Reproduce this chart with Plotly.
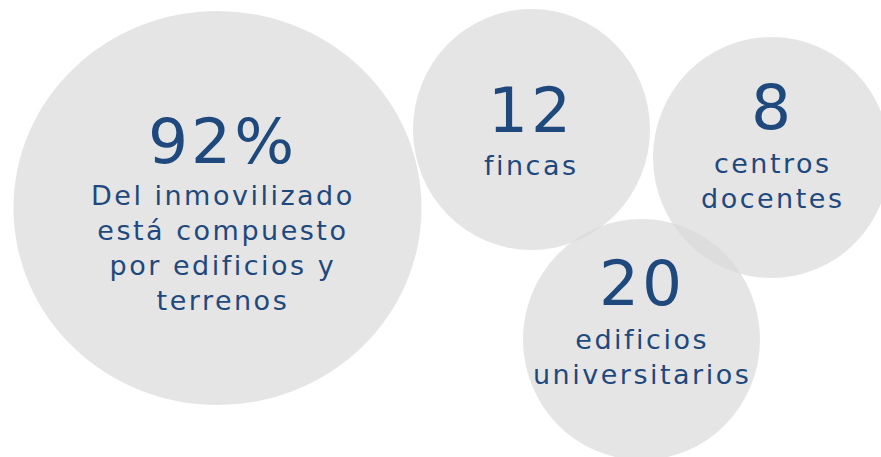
import plotly.graph_objects as go

# ---- data ----
figures = ["92%", "12", "8", "20"]
labels = [
    ["Del inmovilizado", "está compuesto", "por edificios y", "terrenos"],
    ["fincas"],
    ["centros", "docentes"],
    ["edificios", "universitarios"],
]

# ---- layout (pixel space) ----
W, H = 881, 457
bubble_cx = [217.5, 531.5, 771.5, 641.5]
bubble_cy = [208.0, 129.5, 157.5, 339.5]
bubble_rx = [204.0, 118.5, 118.5, 118.5]
bubble_ry = [197.0, 120.5, 120.5, 120.5]
text_cx = [222.5, 531.0, 772.5, 641.5]
num_baseline = [162.0, 131.0, 128.0, 304.0]
label_baseline = [204.0, 174.5, 172.0, 348.0]

NUM_SIZE = 63
LAB_SIZE = 27
ASC = 0.928
TEXT_COLOR = "#1F497D"
FONT = "DejaVu Sans"


def spaced(lines, px):
    return "<br>".join(
        f"<span style='letter-spacing:{px}px'>{ln}</span>" for ln in lines
    )


fig = go.Figure()
fig.add_trace(go.Scatter(x=[0, W], y=[0, H], mode="markers",
                         marker=dict(opacity=0), hoverinfo="skip",
                         showlegend=False))

for cx, cy, rx, ry in zip(bubble_cx, bubble_cy, bubble_rx, bubble_ry):
    fig.add_shape(type="circle", xref="x", yref="y",
                  x0=cx - rx, x1=cx + rx, y0=cy - ry, y1=cy + ry,
                  fillcolor="rgb(217,217,217)", opacity=0.68,
                  line=dict(width=0), layer="below")

for i, (num, lab) in enumerate(zip(figures, labels)):
    fig.add_annotation(x=text_cx[i], y=num_baseline[i] - ASC * NUM_SIZE,
                       xref="x", yref="y", xanchor="center", yanchor="top",
                       text=spaced([num], 3), showarrow=False, borderpad=0,
                       align="center",
                       font=dict(family=FONT, size=NUM_SIZE, color=TEXT_COLOR))
    fig.add_annotation(x=text_cx[i], y=label_baseline[i] - ASC * LAB_SIZE,
                       xref="x", yref="y", xanchor="center", yanchor="top",
                       text=spaced(lab, 2.5), showarrow=False, borderpad=0,
                       align="center",
                       font=dict(family=FONT, size=LAB_SIZE, color=TEXT_COLOR))

fig.update_layout(
    width=W, height=H,
    margin=dict(l=0, r=0, t=0, b=0),
    paper_bgcolor="white", plot_bgcolor="white",
    xaxis=dict(range=[0, W], visible=False, fixedrange=True),
    yaxis=dict(range=[H, 0], visible=False, fixedrange=True),
    showlegend=False,
)

fig.write_html("out.html", config={"displayModeBar": False},
               post_script="document.body.style.margin='0';"
                           "document.body.style.overflow='hidden';")
